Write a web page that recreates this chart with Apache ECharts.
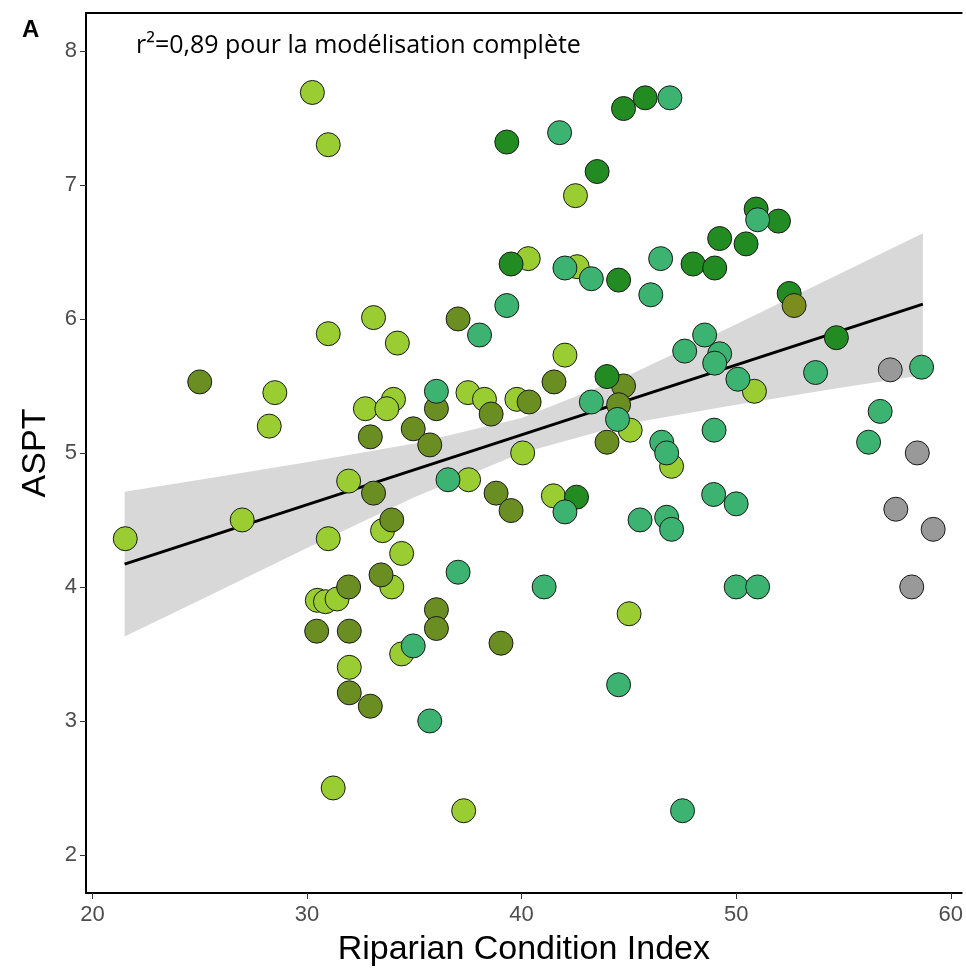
<!DOCTYPE html>
<html>
<head>
<meta charset="utf-8">
<script src="https://cdn.jsdelivr.net/npm/echarts@6/dist/echarts.min.js"></script>
<style>
  html, body { margin: 0; padding: 0; background: #ffffff; overflow: hidden; }
  #chart { width: 966px; height: 973px; }
</style>
</head>
<body>
<div id="chart"></div>
<script>
// Axis ticks
const xTicks = [20, 30, 40, 50, 60];
const yTicks = [2, 3, 4, 5, 6, 7, 8];

// Sites, grouped by fill colour (x = Riparian Condition Index, y = ASPT)
const yellowGreenX = [30.25, 30.99, 30.99, 33.10, 42.51, 40.31, 42.59, 34.21, 42.02, 50.85, 46.99, 45.01, 34.41, 37.30, 31.97, 31.22, 28.50, 28.24, 32.72, 31.94, 26.98, 21.53, 30.99, 30.48, 30.86, 31.40, 34.03, 33.72, 37.50, 38.27, 39.78, 45.06, 40.05, 37.53, 41.48, 33.52, 34.41, 33.95];
const yellowGreenY = [7.69, 7.30, 5.89, 6.01, 6.92, 6.45, 6.39, 5.82, 5.73, 5.46, 4.90, 3.80, 3.50, 2.33, 3.40, 2.50, 5.45, 5.20, 5.33, 4.79, 4.50, 4.36, 4.36, 3.90, 3.89, 3.91, 5.40, 5.33, 5.45, 5.40, 5.40, 5.17, 5.00, 4.80, 4.68, 4.42, 4.25, 4.00];

const oliveDrabX = [37.04, 25.00, 32.95, 33.10, 33.45, 31.94, 30.45, 31.97, 31.97, 32.95, 36.03, 36.03, 39.04, 41.51, 44.75, 36.03, 38.58, 40.35, 44.52, 43.98, 34.95, 35.72, 38.81, 39.51, 33.95];
const oliveDrabY = [6.00, 5.53, 5.12, 4.70, 4.09, 4.00, 3.67, 3.67, 3.21, 3.11, 3.83, 3.69, 3.58, 5.53, 5.50, 5.33, 5.29, 5.38, 5.36, 5.08, 5.18, 5.06, 4.70, 4.57, 4.50];

const forestX = [39.31, 44.75, 45.76, 43.52, 39.51, 44.52, 50.93, 51.97, 49.23, 50.46, 47.99, 49.00, 52.47, 54.67, 43.98, 42.56];
const forestY = [7.32, 7.57, 7.65, 7.10, 6.41, 6.29, 6.82, 6.73, 6.60, 6.56, 6.41, 6.38, 6.19, 5.86, 5.57, 4.67];

const seaGreenX = [41.77, 46.91, 42.02, 43.25, 46.48, 46.02, 39.31, 38.04, 51.00, 48.53, 47.60, 49.23, 49.00, 50.08, 53.70, 58.64, 48.97, 56.71, 56.17, 46.53, 46.76, 48.95, 50.00, 46.76, 46.99, 50.00, 51.00, 47.50, 44.52, 34.95, 35.72, 36.03, 43.25, 44.47, 36.57, 42.02, 45.52, 37.04, 41.05];
const seaGreenY = [7.39, 7.65, 6.38, 6.30, 6.45, 6.18, 6.10, 5.88, 6.74, 5.88, 5.76, 5.74, 5.67, 5.55, 5.60, 5.64, 5.17, 5.31, 5.08, 5.08, 5.00, 4.69, 4.62, 4.52, 4.43, 4.00, 4.00, 2.33, 3.27, 3.56, 3.00, 5.46, 5.38, 5.25, 4.80, 4.56, 4.50, 4.11, 4.00];

const greyX = [57.18, 58.44, 57.44, 59.18, 58.18];
const greyY = [5.62, 5.00, 4.58, 4.43, 4.00];

const oliveX = [52.70];
const oliveY = [6.10];

// Linear fit and its confidence band
const fitX = [21.5, 58.7];
const fitY = [4.17, 6.11];
const bandX = [21.5, 25, 30, 35, 40, 45, 50, 55, 58.7];
const bandLower = [3.63, 3.90, 4.29, 4.67, 5.00, 5.22, 5.36, 5.49, 5.58];
const bandUpper = [4.71, 4.80, 4.93, 5.07, 5.26, 5.58, 5.96, 6.35, 6.64];

const zip = (xs, ys) => xs.map((x, i) => [x, ys[i]]);

const groups = [
  { x: yellowGreenX, y: yellowGreenY, color: '#9acd32' },
  { x: oliveDrabX, y: oliveDrabY, color: '#6b8e23' },
  { x: forestX, y: forestY, color: '#228b22' },
  { x: seaGreenX, y: seaGreenY, color: '#3cb371' },
  { x: greyX, y: greyY, color: '#999999' },
  { x: oliveX, y: oliveY, color: '#7c8c1e' }
];

const X_MIN = 19.70, X_MAX = 60.51;
const Y_MIN = 1.716, Y_MAX = 8.283;

const tickFont = { color: '#4d4d4d', fontSize: 22, fontFamily: 'Liberation Sans, Arial, sans-serif' };

const chart = echarts.init(document.getElementById('chart'), null, { renderer: 'canvas' });

const series = [
  {
    type: 'custom',
    silent: true,
    z: 1,
    renderItem: function (params, api) {
      if (params.dataIndex !== 0) return null;
      const pts = [];
      for (let i = 0; i < bandX.length; i++) pts.push(api.coord([bandX[i], bandUpper[i]]));
      for (let i = bandX.length - 1; i >= 0; i--) pts.push(api.coord([bandX[i], bandLower[i]]));
      return { type: 'polygon', shape: { points: pts }, style: { fill: '#d8d8d8' } };
    },
    data: [[bandX[0], bandLower[0]]]
  },
  {
    type: 'line',
    z: 2,
    symbol: 'none',
    silent: true,
    lineStyle: { color: '#000000', width: 3 },
    data: zip(fitX, fitY)
  }
];

groups.forEach(g => {
  series.push({
    type: 'scatter',
    z: 3,
    symbol: 'circle',
    symbolSize: 24,
    itemStyle: { color: g.color, borderColor: '#1a1a1a', borderWidth: 1, opacity: 1 },
    data: zip(g.x, g.y)
  });
});

chart.setOption({
  animation: false,
  backgroundColor: '#ffffff',
  grid: { left: 86, top: 13, right: -4, bottom: 80, containLabel: false },
  xAxis: [
    {
      type: 'value',
      min: X_MIN,
      max: X_MAX,
      name: 'Riparian Condition Index',
      nameLocation: 'middle',
      nameGap: 40,
      nameTextStyle: { color: '#000000', fontSize: 34, fontFamily: 'Liberation Sans, Arial, sans-serif' },
      axisLine: { show: true, onZero: false, lineStyle: { color: '#000000', width: 2 } },
      axisTick: { show: true, customValues: xTicks, length: 6, lineStyle: { color: '#333333', width: 1 } },
      axisLabel: Object.assign({ customValues: xTicks, margin: 11 }, tickFont),
      splitLine: { show: false }
    },
    {
      type: 'value',
      position: 'top',
      min: X_MIN,
      max: X_MAX,
      axisLine: { show: true, onZero: false, lineStyle: { color: '#000000', width: 2 } },
      axisTick: { show: false },
      axisLabel: { show: false },
      splitLine: { show: false }
    }
  ],
  yAxis: {
    type: 'value',
    min: Y_MIN,
    max: Y_MAX,
    name: 'ASPT',
    nameLocation: 'middle',
    nameGap: 33,
    nameRotate: 90,
    nameTextStyle: { color: '#000000', fontSize: 34, fontFamily: 'Liberation Sans, Arial, sans-serif' },
    axisLine: { show: true, onZero: false, lineStyle: { color: '#000000', width: 2 } },
    axisTick: { show: true, customValues: yTicks, length: 6, lineStyle: { color: '#333333', width: 1 } },
    axisLabel: Object.assign({ customValues: yTicks, margin: 9 }, tickFont),
    splitLine: { show: false }
  },
  graphic: [
    {
      type: 'text',
      left: 22,
      top: 18,
      style: { text: 'A', fill: '#000000', font: 'bold 24px "Liberation Sans", Arial, sans-serif' }
    },
    {
      type: 'text',
      left: 136,
      top: 33,
      style: { text: 'r²=0,89 pour la modélisation complète', fill: '#000000', font: '25px "Open Sans", "Noto Sans", sans-serif' }
    }
  ],
  series: series
});
</script>
</body>
</html>
